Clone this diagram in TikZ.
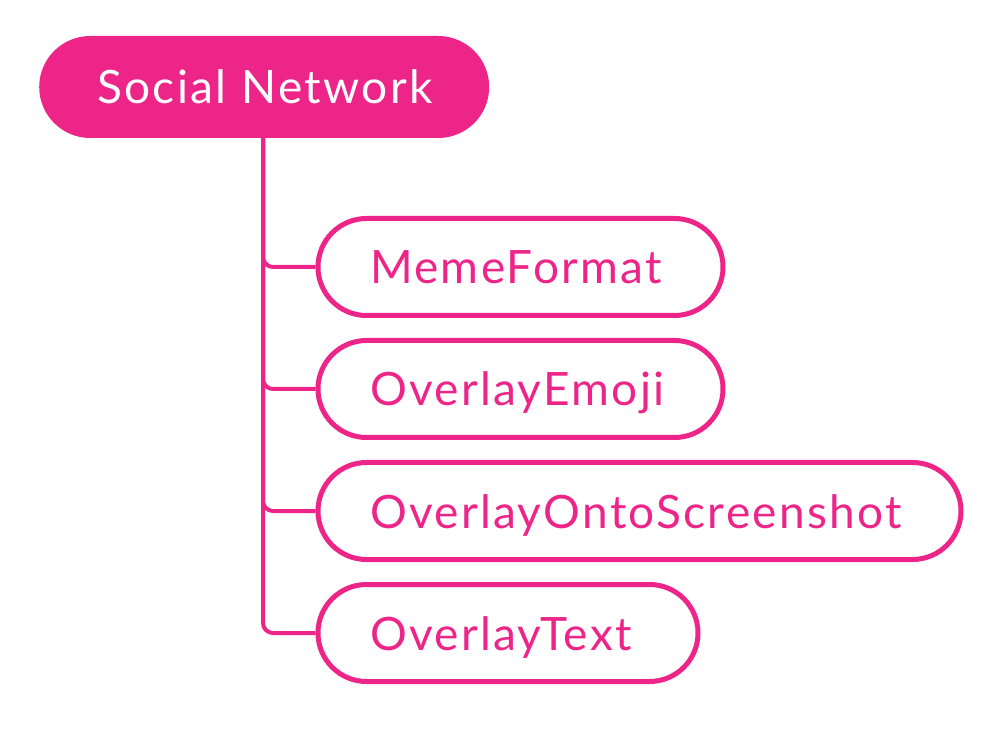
\documentclass[tikz,border=0pt]{standalone}
\usepackage{fontspec}
\setmainfont{Lato}[LetterSpace=5]
\definecolor{pink}{RGB}{238,37,137}
\begin{document}
\begin{tikzpicture}[x=1pt,y=-1pt,
  rootbox/.style={fill=pink, draw=none, text=white, rounded corners=51pt,
    minimum height=102pt, inner ysep=0pt, inner xsep=58pt,
    text height=34pt, text depth=0pt, align=left,
    font=\fontsize{46}{50}\selectfont, anchor=west},
  childbox/.style={fill=white, draw=pink, line width=5pt, text=pink, rounded corners=48.5pt,
    minimum height=97pt, inner ysep=0pt, inner xsep=52pt,
    text height=34pt, text depth=0pt, align=left,
    font=\fontsize{46}{50}\selectfont, anchor=west},
  link/.style={draw=pink, line width=4pt, rounded corners=10pt}]
\useasboundingbox (0,0) rectangle (1005,735);
\node[rootbox, text width=334pt] (root) at (39,87) {Social Network};
\node[childbox, text width=301pt] (c1) at (315.5,267) {MemeFormat};
\node[childbox, text width=301pt] (c2) at (315.5,389) {OverlayEmoji};
\node[childbox, text width=539pt] (c3) at (315.5,511) {OverlayOntoScreenshot};
\node[childbox, text width=276pt] (c4) at (315.5,633) {OverlayText};
\coordinate (trunk) at (263,138);
\foreach \c in {c1,c2,c3,c4}{
  \draw[link] (trunk) |- (\c.west);
}
\end{tikzpicture}
\end{document}
